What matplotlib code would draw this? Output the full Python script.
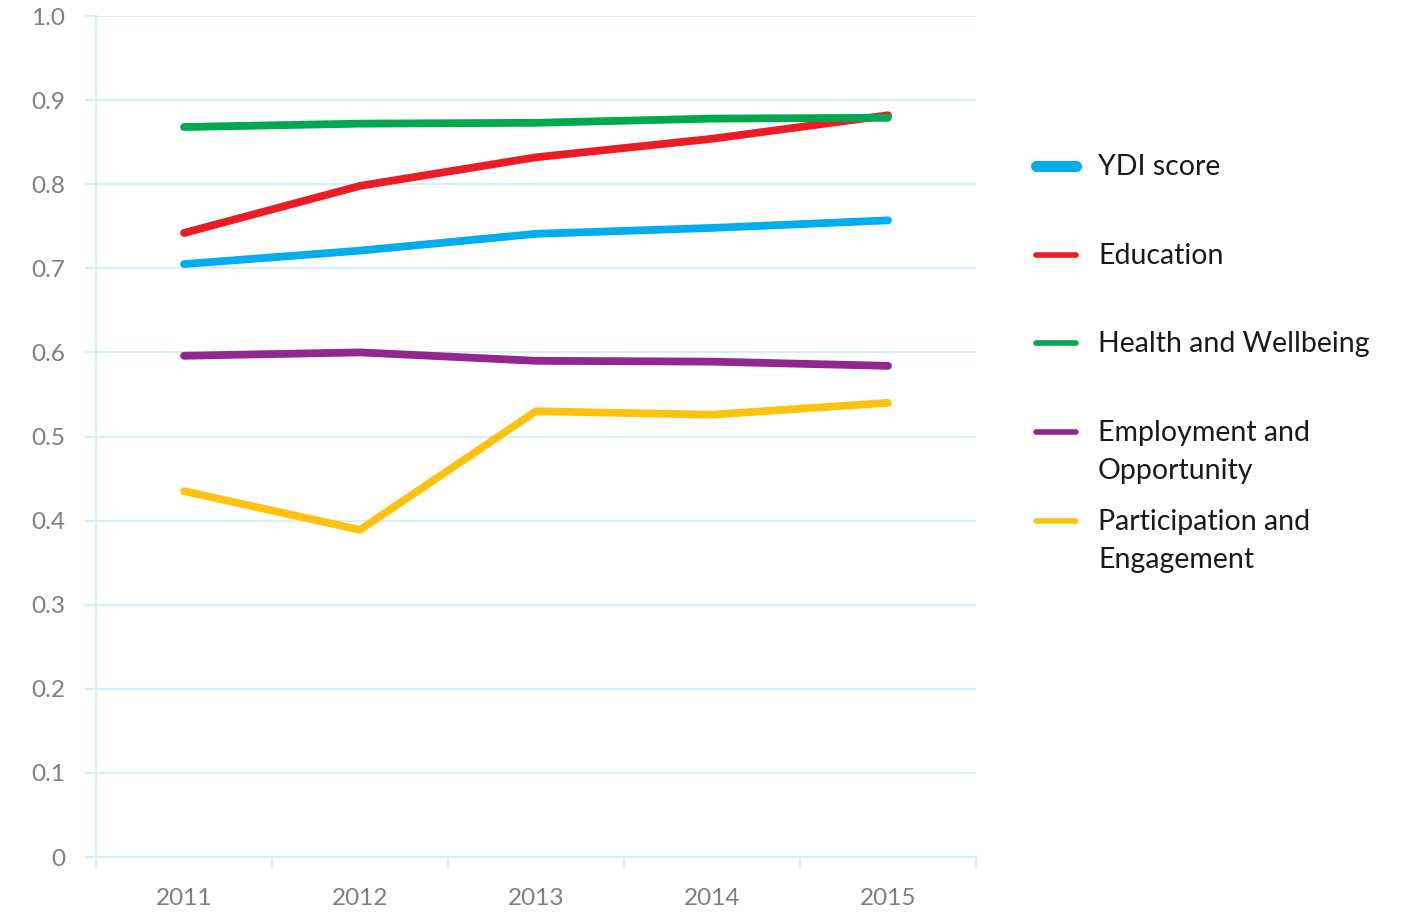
import matplotlib
matplotlib.use("Agg")
import matplotlib.pyplot as plt
from matplotlib.lines import Line2D

# data
years = ["2011", "2012", "2013", "2014", "2015"]
ydi = [0.705, 0.721, 0.741, 0.748, 0.757]
education = [0.742, 0.798, 0.832, 0.854, 0.882]
health = [0.868, 0.872, 0.873, 0.878, 0.879]
employment = [0.596, 0.600, 0.590, 0.589, 0.584]
participation = [0.435, 0.389, 0.530, 0.526, 0.540]

series = [
    ("YDI score", ydi, "#00aeef", 8),
    ("Education", education, "#ed1c24", 4),
    ("Health and Wellbeing", health, "#00a94f", 4),
    ("Employment and\nOpportunity", employment, "#92278f", 4),
    ("Participation and\nEngagement", participation, "#ffc20e", 4),
]

plt.rcParams['font.family'] = ['Lato', 'DejaVu Sans']
grid_col = "#d5eef9"

fig = plt.figure(figsize=(14.05, 9.14), dpi=100)
ax = fig.add_axes([96/1405, 1-857/914, 880/1405, 841/914])

x = list(range(len(years)))
for name, vals, col, lw in series:
    ax.plot(x, vals, color=col, lw=5.6, solid_capstyle='round')

ax.set_xlim(-0.5, 4.5)
ax.set_ylim(0, 1.0)
ax.set_yticks([i/10 for i in range(11)])
ax.set_yticklabels(["0"] + [f"{i/10:.1f}" for i in range(1, 11)])
ax.set_xticks(x)
ax.set_xticklabels(years)
ax.set_xticks([i - 0.5 for i in range(6)], minor=True)
ax.tick_params(axis='x', which='major', length=0, pad=22, labelsize=17.5, labelcolor='#7f7f7f')
ax.tick_params(axis='x', which='minor', length=8, color=grid_col, width=1.5)
ax.tick_params(axis='y', length=8, color=grid_col, width=1.5, pad=14, labelsize=17.5, labelcolor='#7f7f7f')
ax.yaxis.grid(True, color=grid_col, lw=1.5)
ax.set_axisbelow(True)
for s in ['top', 'right']:
    ax.spines[s].set_visible(False)
for s in ['left', 'bottom']:
    ax.spines[s].set_color(grid_col)
    ax.spines[s].set_linewidth(1.5)

# legend drawn by hand so the handle sits on the first text line
ys = [166, 255, 343, 432, 521]
for (name, vals, col, lw), yp in zip(series, ys):
    yf = 1 - yp/914
    fig.add_artist(Line2D([1036/1405, 1076/1405], [yf, yf], color=col, lw=lw,
                          solid_capstyle='round', transform=fig.transFigure))
    fig.text(1098/1405, yf + 12/914, name, fontsize=20.5, color='#1a1a1a',
             va='top', ha='left', linespacing=1.58, transform=fig.transFigure)

fig.savefig("out.png", dpi=100)
